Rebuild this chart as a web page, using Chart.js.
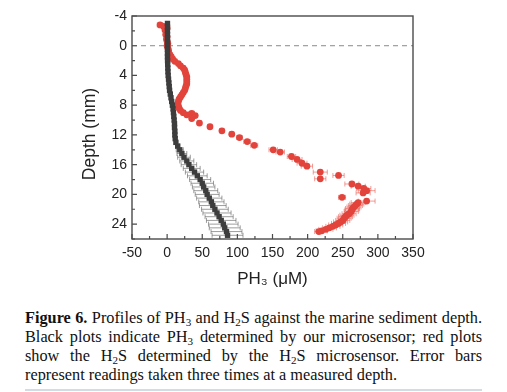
<!DOCTYPE html>
<html>
<head>
<meta charset="utf-8">
<script src="https://cdn.jsdelivr.net/npm/chart.js@4.4.1/dist/chart.umd.min.js"></script>
<style>
  html, body { margin: 0; padding: 0; background: #fff; }
  body { width: 507px; height: 392px; position: relative; overflow: hidden; }
  #wrap { position: absolute; left: 0; top: 0; width: 507px; height: 300px; }
  #caption {
    position: absolute; left: 25px; top: 308px; width: 457px;
    font-family: "Liberation Serif", "Times New Roman", serif;
    font-size: 16.3px; line-height: 19px; color: #111;
  }
  #caption div { white-space: nowrap; text-align: justify; text-align-last: justify; }
  #caption div.last { text-align: left; text-align-last: left; }
  #caption sub { font-size: 0.68em; vertical-align: -0.28em; line-height: 0; }
  #rule { position: absolute; left: 25px; top: 389px; width: 457px; height: 2px; background: #d3dbe3; }
</style>
</head>
<body>
<div id="wrap"><canvas id="c"></canvas></div>
<div id="caption">
  <div><b>Figure 6.</b> Profiles of PH<sub>3</sub> and H<sub>2</sub>S against the marine sediment depth.</div>
  <div>Black plots indicate PH<sub>3</sub> determined by our microsensor; red plots</div>
  <div>show the H<sub>2</sub>S determined by the H<sub>2</sub>S microsensor. Error bars</div>
  <div class="last">represent readings taken three times at a measured depth.</div>
</div>
<div id="rule"></div>
<script>
// ---- data (depth in mm, concentration in µM) ----
const xTicks = [-50, 0, 50, 100, 150, 200, 250, 300, 350];
const yTicks = [-4, 0, 4, 8, 12, 16, 20, 24];

const ph3Depth = [-3, -2.5, -2, -1.5, -1, -0.5, 0, 0.5, 1, 1.5, 2, 2.5, 3, 3.5, 4, 4.5, 5, 5.5, 6, 6.5, 7, 7.5, 8, 8.5, 9, 9.5, 10, 10.5, 11, 11.5, 12, 12.5, 13, 13.5, 14, 14.5, 15, 15.5, 16, 16.5, 17, 17.5, 18, 18.5, 19, 19.5, 20, 20.5, 21, 21.5, 22, 22.5, 23, 23.5, 24, 24.5, 25, 25.5];
const ph3Value = [0.5, 0.5, 0.5, 0.5, 0.5, 0.5, 0.5, 0.5, 0.5, 0.5, 0.6, 0.8, 1, 1.2, 1.5, 2, 2.5, 3, 3.5, 4.5, 5.5, 6.5, 7.5, 8.5, 9, 9.5, 10, 10.5, 10.5, 11, 11, 11.5, 12.5, 15, 18, 21, 24, 28, 31, 35, 39, 43, 47, 50, 52, 55, 57, 60, 63, 65, 68, 71, 74, 77, 80, 82, 84.5, 86];
const ph3Error = [1, 1, 1, 1, 1, 1, 1, 1, 1, 1, 1, 1, 1, 1, 1, 1, 1, 1, 1, 1, 1, 1, 1, 1, 1, 1, 1, 1, 1, 1, 1, 1, 2, 3, 5, 7, 9, 10, 11, 12, 13, 14, 15, 16, 16, 17, 17, 18, 18, 19, 19, 20, 20, 21, 21, 22, 22, 22];

const h2sDepth = [-2.8, -2.6, -2.4, -2.1, -1.8, -1.5, -1.2, -0.9, -0.6, -0.3, 0, 0.3, 0.6, 0.9, 1.2, 1.5, 1.8, 2.1, 2.4, 2.7, 3.0, 3.3, 3.6, 3.9, 4.2, 4.5, 4.8, 5.1, 5.4, 5.7, 6.0, 6.3, 6.6, 6.9, 7.2, 7.5, 7.8, 8.1, 8.4, 8.7, 9.0, 9.1, 9.3, 9.4, 9.8, 10.4, 10.9, 11.45, 11.9, 12.35, 12.9, 13.4, 14.0, 14.3, 14.9, 15.3, 15.8, 16.2, 17.0, 17.45, 17.9, 18.6, 18.9, 19.2, 19.5, 19.8, 20.4, 20.9, 21.1, 21.3, 21.5, 21.7, 21.9, 22.1, 22.3, 22.6, 22.8, 23.0, 23.2, 23.5, 23.7, 23.9, 24.1, 24.3, 24.5, 24.7, 24.9, 25.0];
const h2sValue = [-10, -5, 0, -3, -1, -2, 0, -1, 0, 1, 0, 1, 2, 2, 4, 6, 8, 11, 16, 19, 23, 25, 26, 27, 28, 28, 28, 28, 27, 26, 25, 23, 21, 19, 17, 16, 15, 16, 17, 19, 23, 35, 28, 40, 35, 46, 61, 78, 92, 103, 114, 124, 151, 161, 177, 185, 192, 199, 218, 244, 218, 263, 272, 280, 284, 279, 249, 284, 272, 270, 268, 266, 264, 263, 262, 259, 256, 254, 252, 250, 247, 244, 240, 236, 231, 226, 220, 216];
const h2sError = [4, 3, 3, 2, 2, 2, 2, 2, 2, 2, 2, 2, 2, 2, 2, 2, 2, 2, 2, 2, 2, 2, 2, 2, 2, 2, 2, 2, 2, 2, 2, 2, 2, 2, 2, 2, 2, 2, 2, 2, 3, 4, 3, 3, 3, 3, 3, 3, 3, 4, 5, 5, 6, 6, 6, 7, 7, 8, 10, 8, 8, 10, 10, 10, 12, 10, 5, 12, 10, 10, 10, 10, 10, 10, 10, 10, 10, 10, 10, 10, 10, 10, 10, 10, 10, 10, 8, 6];

const xTitle = 'PH\u2083 (\u03BCM)';
const yTitle = 'Depth (mm)';

// ---- plugins ----
const errorBars = {
  id: 'errorBars',
  beforeDatasetsDraw(chart) {
    const {ctx} = chart;
    const xs = chart.scales.x, ys = chart.scales.y;
    chart.data.datasets.forEach(ds => {
      if (!ds.errX) return;
      ctx.save();
      ctx.strokeStyle = ds.errColor;
      ctx.lineWidth = ds.errWidth;
      ds.data.forEach((p, i) => {
        const e = ds.errX[i];
        const y = ys.getPixelForValue(p.y);
        const x1 = xs.getPixelForValue(p.x - e), x2 = xs.getPixelForValue(p.x + e);
        ctx.beginPath();
        ctx.moveTo(x1, y); ctx.lineTo(x2, y);
        ctx.moveTo(x1, y - 2.5); ctx.lineTo(x1, y + 2.5);
        ctx.moveTo(x2, y - 2.5); ctx.lineTo(x2, y + 2.5);
        ctx.stroke();
      });
      ctx.restore();
    });
  }
};

const frame = {
  id: 'frame',
  beforeDatasetsDraw(chart) {
    const {ctx, chartArea: a} = chart;
    const ys = chart.scales.y;
    const y0 = ys.getPixelForValue(0);
    ctx.save();
    ctx.strokeStyle = '#8a8a8a';
    ctx.lineWidth = 1;
    ctx.setLineDash([5, 4]);
    ctx.beginPath(); ctx.moveTo(a.left, y0); ctx.lineTo(a.right, y0); ctx.stroke();
    ctx.restore();
  },
  afterDraw(chart) {
    const {ctx, chartArea: a} = chart;
    const xs = chart.scales.x, ys = chart.scales.y;
    ctx.save();
    ctx.strokeStyle = '#4a4a4a';
    ctx.lineWidth = 1.4;
    ctx.strokeRect(a.left, a.top, a.right - a.left, a.bottom - a.top);
    ctx.lineWidth = 1.2;
    ctx.beginPath();
    for (let i = 0; i < xTicks.length; i++) {
      const px = xs.getPixelForValue(xTicks[i]);
      ctx.moveTo(px, a.bottom); ctx.lineTo(px, a.bottom - 5);
      if (i < xTicks.length - 1) {
        const pm = xs.getPixelForValue((xTicks[i] + xTicks[i + 1]) / 2);
        ctx.moveTo(pm, a.bottom); ctx.lineTo(pm, a.bottom - 3);
      }
    }
    for (let i = 0; i < yTicks.length; i++) {
      const py = ys.getPixelForValue(yTicks[i]);
      ctx.moveTo(a.left, py); ctx.lineTo(a.left + 5, py);
      const pm = ys.getPixelForValue(yTicks[i] + 2);
      ctx.moveTo(a.left, pm); ctx.lineTo(a.left + 3, pm);
    }
    ctx.stroke();
    // axis titles
    ctx.fillStyle = '#222';
    ctx.font = '17px "Liberation Sans", Arial, sans-serif';
    ctx.textAlign = 'center';
    ctx.textBaseline = 'middle';
    ctx.fillText(xTitle, (a.left + a.right) / 2, 279);
    ctx.translate(90, 134);
    ctx.rotate(-Math.PI / 2);
    ctx.font = '17.5px "Liberation Sans", Arial, sans-serif';
    ctx.fillText(yTitle, 0, 0);
    ctx.restore();
  }
};

const tickFont = {family: '"Liberation Sans", Arial, sans-serif', size: 14};

new Chart(document.getElementById('c'), {
  type: 'scatter',
  data: {
    datasets: [
      {
        label: 'PH3',
        data: ph3Depth.map((d, i) => ({x: ph3Value[i], y: d})),
        errX: ph3Error, errColor: 'rgba(100,100,100,0.8)', errWidth: 0.8,
        pointStyle: 'rect', pointRadius: 3.8, pointBackgroundColor: '#3d3d3d',
        pointBorderWidth: 0, pointBorderColor: '#3d3d3d'
      },
      {
        label: 'H2S',
        data: h2sDepth.map((d, i) => ({x: h2sValue[i], y: d})),
        errX: h2sError, errColor: 'rgba(232,90,80,0.6)', errWidth: 1,
        pointStyle: 'circle', pointRadius: 3.4, pointBackgroundColor: '#e2443c',
        pointBorderWidth: 0, pointBorderColor: '#e2443c'
      }
    ]
  },
  options: {
    responsive: true,
    maintainAspectRatio: false,
    animation: false,
    layout: {padding: {left: 0, top: 16, right: 94, bottom: 0}},
    plugins: {legend: {display: false}, tooltip: {enabled: false}},
    scales: {
      x: {
        type: 'linear', min: -50, max: 350,
        afterFit(s) { s.height = 61; },
        afterBuildTicks(s) { s.ticks = xTicks.map(v => ({value: v})); },
        grid: {display: false, drawTicks: false},
        border: {display: false},
        ticks: {font: tickFont, color: '#222', padding: 6, maxRotation: 0, autoSkip: false}
      },
      y: {
        type: 'linear', min: -4, max: 26, reverse: true,
        afterFit(s) { s.width = 132; },
        afterBuildTicks(s) { s.ticks = yTicks.map(v => ({value: v})); },
        grid: {display: false, drawTicks: false},
        border: {display: false},
        ticks: {font: tickFont, color: '#222', padding: 5, autoSkip: false}
      }
    }
  },
  plugins: [errorBars, frame]
});
</script>
</body>
</html>
